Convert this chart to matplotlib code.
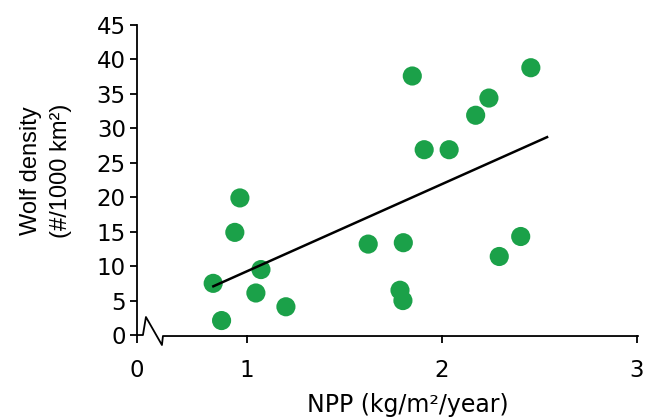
import numpy as np
import matplotlib
matplotlib.use("Agg")
import matplotlib.pyplot as plt

# Data
npp = [0.827, 0.870, 0.938, 0.964, 1.046, 1.072, 1.200, 1.622, 1.802, 1.785,
       1.800, 1.848, 1.909, 2.037, 2.173, 2.241, 2.294, 2.404, 2.456]
wolf = [7.5, 2.1, 14.9, 19.9, 6.1, 9.5, 4.1, 13.2, 13.4, 6.5,
        5.0, 37.6, 26.9, 26.9, 31.9, 34.4, 11.4, 14.3, 38.8]
fit_x = [0.822, 2.545]
fit_y = [7.0, 28.8]
x_ticks = [0, 1, 2, 3]
y_ticks = [0, 5, 10, 15, 20, 25, 30, 35, 40, 45]

# broken-axis scale: compress 0..B into a short stretch
A, B = 0.436, 0.6

def fwd(x):
    x = np.asarray(x, dtype=float)
    return np.where(x < B, A + x * (B - A) / B, x)

def inv(y):
    y = np.asarray(y, dtype=float)
    return np.where(y < B, (y - A) * B / (B - A), y)

fig = plt.figure(figsize=(6.49, 4.17), dpi=100)
ax = fig.add_axes([0.211, 0.1966, 0.7704, 0.7434])
ax.set_xscale('function', functions=(fwd, inv))
ax.set_xlim(0, 3)
ax.set_ylim(0, 45)

green = '#1ba149'
ax.scatter(npp, wolf, s=190, color=green, edgecolors='none', zorder=3, clip_on=False)
ax.plot(fit_x, fit_y, color='black', lw=1.8, zorder=4, solid_capstyle='butt')

for s in ['top', 'right', 'bottom']:
    ax.spines[s].set_visible(False)
ax.spines['left'].set_linewidth(1.3)

# x axis line with break zigzag (pixel offsets from origin)
W, H = 500.0, 310.0
px = [0, 6, 9, 25, 26, 501]
py = [0, 0, 18, -10, -1, -1]
ax.plot([p / W for p in px], [q / H for q in py], transform=ax.transAxes,
        color='black', lw=1.3, clip_on=False, zorder=5)

tick_font = dict(family='DejaVu Sans', size=16.5)
ax.set_xticks(x_ticks)
ax.set_xticklabels([str(t) for t in x_ticks], **tick_font)
ax.set_yticks(y_ticks)
ax.set_yticklabels([str(t) for t in y_ticks], **tick_font)
ax.xaxis.set_minor_locator(matplotlib.ticker.NullLocator())
ax.tick_params(axis='x', direction='out', length=6, width=1.3, pad=11)
ax.tick_params(axis='y', direction='out', length=5, width=1.3, pad=3)

ax.set_xlabel('NPP (kg/m²/year)', family='DejaVu Sans', size=17)
ax.xaxis.set_label_coords(0.542, -0.187)
ax.set_ylabel('Wolf density\n(#/1000 km²)', family='Liberation Sans', size=17,
              linespacing=1.45)
ax.yaxis.set_label_coords(-0.13, 0.53)

fig.savefig('out.png', dpi=100)
